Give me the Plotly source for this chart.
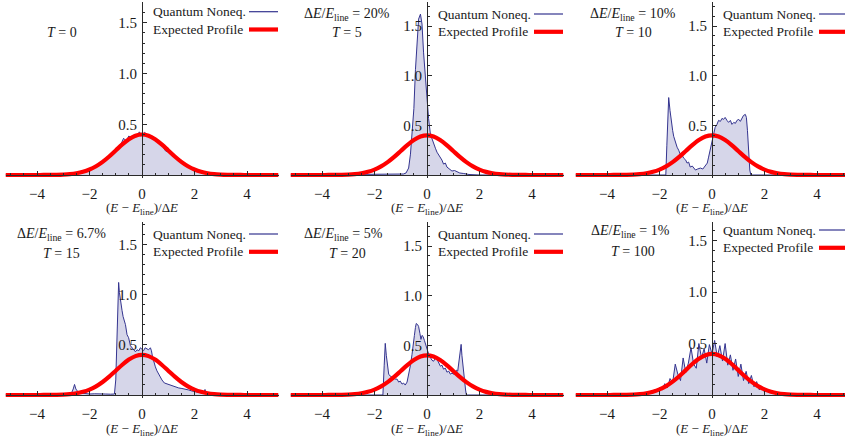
import plotly.graph_objects as go

# ---------------------------------------------------------------- data
# Expected (thermal) line profile, sampled in units of (E - E_line)/dE
PROFILE_E = [-5.2, -4.5, -4.0, -3.75, -3.5, -3.25, -3.0, -2.75, -2.5, -2.25, -2.0,
             -1.75, -1.5, -1.25, -1.0, -0.75, -0.5, -0.25, 0.0, 0.25, 0.5, 0.75,
             1.0, 1.25, 1.5, 1.75, 2.0, 2.25, 2.5, 2.75, 3.0, 3.25, 3.5, 3.75,
             4.0, 4.5, 5.2]
PROFILE_P = [0.0, 0.0, 0.0001, 0.0004, 0.0009, 0.0020, 0.0044, 0.0091, 0.0175, 0.0317,
             0.0540, 0.0863, 0.1295, 0.1826, 0.2420, 0.3011, 0.3521, 0.3867, 0.3989,
             0.3867, 0.3521, 0.3011, 0.2420, 0.1826, 0.1295, 0.0863, 0.0540, 0.0317,
             0.0175, 0.0091, 0.0044, 0.0020, 0.0009, 0.0004, 0.0001, 0.0, 0.0]

# Quantum non-equilibrium distributions
T0_E = [-5.2] + [round(-3.0 + 0.1 * i, 1) for i in range(61)] + [5.2]
T0_P = [0.0,
        0.004, 0.006, 0.008, 0.010, 0.014, 0.018, 0.022, 0.028, 0.035, 0.044,
        0.055, 0.066, 0.080, 0.094, 0.112, 0.131, 0.150, 0.172, 0.195, 0.220,
        0.243, 0.275, 0.305, 0.362, 0.335, 0.385, 0.358, 0.398, 0.375, 0.425,
        0.385, 0.420, 0.395, 0.372, 0.380, 0.345, 0.322, 0.296, 0.280, 0.236,
        0.228, 0.212, 0.190, 0.170, 0.149, 0.129, 0.110, 0.094, 0.079, 0.066,
        0.054, 0.044, 0.035, 0.028, 0.022, 0.018, 0.014, 0.010, 0.008, 0.006,
        0.004,
        0.0]

T5_E = [-5.2, -2.0, -1.0, -0.9, -0.8, -0.7, -0.63, -0.57, -0.5, -0.44, -0.38, -0.32,
        -0.25, -0.19, -0.13, -0.06, 0.0, 0.06, 0.13, 0.19, 0.25, 0.32, 0.38, 0.45,
        0.51, 0.57, 0.63, 0.7, 0.76, 0.85, 0.95, 1.05, 1.14, 1.25, 1.4, 1.6, 2.0, 5.2]
T5_P = [0.0, 0.003, 0.005, 0.01, 0.02, 0.07, 0.21, 0.47, 0.67, 1.06, 1.39, 1.57,
        1.62, 1.52, 1.23, 0.96, 0.77, 0.57, 0.41, 0.36, 0.31, 0.27, 0.23, 0.20,
        0.18, 0.15, 0.11, 0.12, 0.08, 0.06, 0.04, 0.045, 0.03, 0.02, 0.015, 0.005, 0.0, 0.0]

T10_E = [-5.2, -1.76, -1.72, -1.65, -1.6, -1.56, -1.5, -1.46, -1.4, -1.33, -1.27,
         -1.21, -1.14, -1.08, -1.0, -0.95, -0.89, -0.83, -0.75, -0.63, -0.55, -0.44,
         -0.35, -0.25, -0.18, -0.13, -0.08, -0.04, 0.0, 0.06, 0.12, 0.19, 0.25, 0.32,
         0.38, 0.44, 0.5, 0.57, 0.63, 0.7, 0.76, 0.83, 0.89, 0.95, 1.02, 1.08, 1.14,
         1.2, 1.27, 1.31, 1.35, 1.4, 1.44, 1.48, 5.2]
T10_P = [0.0, 0.0, 0.30, 0.78, 0.65, 0.54, 0.45, 0.39, 0.33, 0.28, 0.25,
         0.21, 0.20, 0.17, 0.15, 0.12, 0.13, 0.08, 0.09, 0.05, 0.06, 0.07,
         0.06, 0.10, 0.12, 0.18, 0.24, 0.29, 0.33, 0.41, 0.48, 0.51, 0.55, 0.54,
         0.57, 0.56, 0.58, 0.55, 0.53, 0.55, 0.51, 0.53, 0.52, 0.55, 0.56, 0.54, 0.58,
         0.60, 0.61, 0.58, 0.45, 0.20, 0.05, 0.0, 0.0]

T15_E = [-5.2, -2.7, -2.62, -2.57, -2.52, -2.45, -2.35, -2.2, -2.0, -1.8, -1.6, -1.4,
         -1.2, -1.05, -1.0, -0.97, -0.93, -0.89, -0.86, -0.83, -0.79, -0.76, -0.72,
         -0.68, -0.63, -0.57, -0.51, -0.44, -0.38, -0.32, -0.25, -0.19, -0.12, -0.06,
         0.0, 0.06, 0.12, 0.19, 0.25, 0.32, 0.36, 0.4, 0.45, 0.51, 0.57, 0.63, 0.7,
         0.76, 0.85, 0.95, 1.05, 1.15, 1.27, 1.4, 1.52, 1.65, 1.78, 1.9, 2.03, 2.15,
         2.29, 2.36, 2.4, 2.45, 5.2]
T15_P = [0.0, 0.01, 0.06, 0.105, 0.06, 0.035, 0.02, 0.015, 0.01, 0.012, 0.008, 0.01,
         0.008, 0.01, 0.15, 0.45, 0.85, 1.12, 1.02, 0.95, 0.90, 0.84, 0.78,
         0.75, 0.70, 0.60, 0.57, 0.49, 0.47, 0.46, 0.43, 0.45, 0.44, 0.47,
         0.45, 0.44, 0.47, 0.46, 0.45, 0.47, 0.44, 0.38, 0.33, 0.28, 0.24, 0.21, 0.18,
         0.15, 0.12, 0.11, 0.10, 0.09, 0.08, 0.07, 0.065, 0.06, 0.05, 0.04, 0.035, 0.03,
         0.02, 0.03, 0.055, 0.01, 0.0]

T20_E = [-5.2, -1.68, -1.63, -1.59, -1.55, -1.52, -1.46, -1.4, -1.33, -1.27, -1.21,
         -1.14, -1.08, -1.02, -0.95, -0.89, -0.83, -0.76, -0.7, -0.63, -0.57, -0.52,
         -0.48, -0.44, -0.41, -0.36, -0.32, -0.27, -0.23, -0.19, -0.15, -0.1, -0.06,
         0.0, 0.03, 0.08, 0.13, 0.19, 0.25, 0.32, 0.38, 0.44, 0.51, 0.57, 0.63, 0.7,
         0.76, 0.83, 0.89, 0.95, 1.02, 1.08, 1.12, 1.17, 1.21, 1.26, 1.3, 1.33, 1.36,
         1.4, 1.43, 1.47, 1.5, 5.2]
T20_P = [0.0, 0.0, 0.30, 0.52, 0.40, 0.34, 0.21, 0.19, 0.18, 0.17, 0.16,
         0.16, 0.13, 0.14, 0.11, 0.12, 0.10, 0.13, 0.20, 0.30, 0.41, 0.55,
         0.60, 0.68, 0.72, 0.71, 0.69, 0.62, 0.56, 0.60, 0.59, 0.55, 0.51,
         0.47, 0.44, 0.40, 0.38, 0.35, 0.34, 0.37, 0.36, 0.32, 0.29, 0.30, 0.26, 0.27,
         0.23, 0.24, 0.21, 0.22, 0.21, 0.22, 0.25, 0.24, 0.31, 0.42, 0.51, 0.40, 0.31,
         0.20, 0.18, 0.05, 0.0, 0.0]

T100_E = [-5.2] + [round(-2.5 + 0.1 * i, 1) for i in range(51)] + [5.2]
T100_P = [0.0,
          0.01, 0.03, 0.02, 0.05, 0.03, 0.07, 0.05, 0.11, 0.07, 0.16,
          0.12, 0.30, 0.20, 0.14, 0.36, 0.22, 0.31, 0.46, 0.30, 0.26,
          0.50, 0.36, 0.45, 0.31, 0.49, 0.40, 0.53, 0.37, 0.48, 0.33,
          0.50, 0.29, 0.39, 0.24, 0.35, 0.18, 0.30, 0.14, 0.23, 0.11,
          0.19, 0.08, 0.13, 0.05, 0.08, 0.03, 0.05, 0.02, 0.03, 0.01,
          0.00,
          0.0]

SERIES = [(T0_E, T0_P), (T5_E, T5_P), (T10_E, T10_P),
          (T15_E, T15_P), (T20_E, T20_P), (T100_E, T100_P)]
RATIOS = [None, "20%", "10%", "6.7%", "5%", "1%"]
TIMES = ["0", "5", "10", "15", "20", "100"]
X_TICKS = [-4, -2, 0, 2, 4]
Y_TICKS = [0.5, 1.0, 1.5]
Y_TICK_TEXT = ["0.5", "1.0", "1.5"]

for e, p in SERIES:
    assert len(e) == len(p)

# ---------------------------------------------------------------- styling
W, H = 845, 441
FONT = "Liberation Serif"
INK = "#1a1a1a"
AXIS = "#2a2a2a"
NAVY = "#34348f"
FILL = "rgba(52,52,143,0.20)"
RED = "#ff0000"
PX_X = 26.25                                   # pixels per unit on the energy axis
PX_Y = [101.5, 99.3, 99.3, 100.5, 99.3, 102.9]  # pixels per unit on the probability axis
X_HALF = 5.2
Y_LOW = -0.03

# per-panel text placement (pixel offsets inside each 285x220 cell)
LEG_TOP = [11.7, 14, 14, 14, 14, 10]
RATIO_POS = [None, (62, 14), (63, 14), (62, 15), (58, 14), (60, 11)]
TIME_POS = [(62, 32), (62, 33), (63, 33), (62, 33), (62, 33), (63, 31)]

fig = go.Figure()
annotations = []
shapes = []


def px(x):
    return x / W


def py(y):
    return 1 - y / H


for i, (e, p) in enumerate(SERIES):
    row, col = divmod(i, 3)
    n = "" if i == 0 else str(i + 1)
    x0 = 142 + 285 * col
    base = 175 + 220 * row
    top = 2 + 220 * row
    left = x0 - X_HALF * PX_X
    right = min(x0 + X_HALF * PX_X, W)
    ys = PX_Y[i]
    y_top = (base - top) / ys
    bottom = base - Y_LOW * ys

    fig.add_trace(go.Scatter(
        x=e, y=p, mode="lines", fill="tozeroy", fillcolor=FILL,
        line=dict(color=NAVY, width=1), xaxis="x" + n, yaxis="y" + n,
        hoverinfo="skip"))
    fig.add_trace(go.Scatter(
        x=PROFILE_E, y=PROFILE_P, mode="lines",
        line=dict(color=RED, width=4.2, shape="spline", smoothing=0.8),
        xaxis="x" + n, yaxis="y" + n, hoverinfo="skip"))

    fig.layout["xaxis" + n] = dict(
        domain=[px(left), px(right)],
        range=[(left - x0) / PX_X, (right - x0) / PX_X],
        anchor="free", position=py(base), side="bottom",
        showline=True, linecolor=AXIS, linewidth=1, layer="above traces",
        ticks="inside", ticklen=4, tickcolor=AXIS, tickwidth=1,
        tickmode="array", tickvals=X_TICKS,
        minor=dict(ticks="inside", ticklen=2, tickcolor=AXIS,
                   tickmode="linear", tick0=0, dtick=0.5),
        showgrid=False, zeroline=False, fixedrange=True,
        tickfont=dict(family=FONT, size=15, color=INK),
        ticklabelstandoff=5,
    )
    fig.layout["yaxis" + n] = dict(
        domain=[py(bottom), py(top)],
        range=[Y_LOW, y_top],
        anchor="free", position=px(x0), side="left",
        showline=True, linecolor=AXIS, linewidth=1, layer="above traces",
        ticks="inside", ticklen=4, tickcolor=AXIS, tickwidth=1,
        tickmode="array", tickvals=Y_TICKS, ticktext=Y_TICK_TEXT,
        minor=dict(ticks="inside", ticklen=2, tickcolor=AXIS,
                   tickmode="linear", tick0=0, dtick=0.1),
        showgrid=False, zeroline=False, fixedrange=True,
        tickfont=dict(family=FONT, size=15, color=INK),
        ticklabelstandoff=2,
    )

    cx, cy = 285 * col, 220 * row

    # axis label under each panel
    annotations.append(dict(
        x=px(x0), y=py(base + 34), xref="paper", yref="paper",
        text="(<i>E</i> − <i>E</i><sub>line</sub>)/Δ<i>E</i>",
        showarrow=False, xanchor="center", yanchor="middle",
        font=dict(family=FONT, size=13, color=INK)))

    # panel captions
    if RATIOS[i] is not None:
        rx, ry = RATIO_POS[i]
        annotations.append(dict(
            x=px(cx + rx), y=py(cy + ry), xref="paper", yref="paper",
            text="Δ<i>E</i>/<i>E</i><sub>line</sub> = " + RATIOS[i],
            showarrow=False, xanchor="center", yanchor="middle",
            font=dict(family=FONT, size=14, color=INK)))
    tx, ty = TIME_POS[i]
    annotations.append(dict(
        x=px(cx + tx), y=py(cy + ty), xref="paper", yref="paper",
        text="<i>T</i> = " + TIMES[i],
        showarrow=False, xanchor="center", yanchor="middle",
        font=dict(family=FONT, size=14, color=INK)))

    # legend: label text followed by a line sample on the right
    ly = cy + LEG_TOP[i]
    for k, (label, colr, lw) in enumerate([("Quantum Noneq.", NAVY, 1.2),
                                           ("Expected Profile", RED, 4.2)]):
        yy = ly + 17.8 * k
        annotations.append(dict(
            x=px(x0 + 9), y=py(yy), xref="paper", yref="paper",
            text=label, showarrow=False, xanchor="left", yanchor="middle",
            font=dict(family=FONT, size=13.5, color=INK)))
        shapes.append(dict(
            type="line", xref="paper", yref="paper",
            x0=px(x0 + 107), x1=px(min(x0 + 136, W)),
            y0=py(yy), y1=py(yy), line=dict(color=colr, width=lw)))

fig.update_layout(
    width=W, height=H,
    margin=dict(l=0, r=0, t=0, b=0),
    paper_bgcolor="white", plot_bgcolor="white",
    showlegend=False,
    annotations=annotations, shapes=shapes,
)

fig.write_html("out.html")
